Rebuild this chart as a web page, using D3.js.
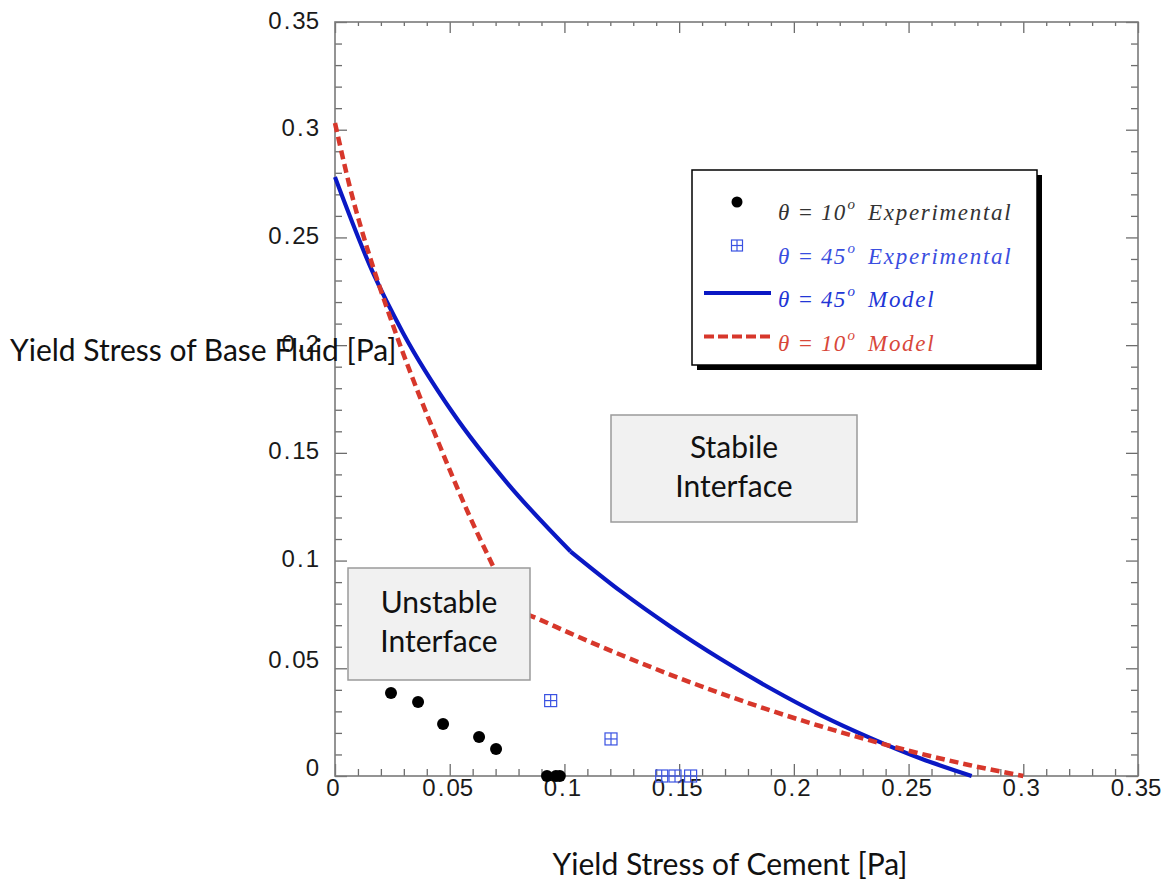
<!DOCTYPE html>
<html>
<head>
<meta charset="utf-8">
<script src="https://cdn.jsdelivr.net/npm/d3@7"></script>
<style>
  body { margin: 0; background: #ffffff; }
  svg { display: block; }
</style>
</head>
<body>
<svg id="chart" width="1163" height="881"></svg>
<script>
// ---- data ----
const xTickValues = [0, 0.05, 0.1, 0.15, 0.2, 0.25, 0.3, 0.35];
const xTickLabels = ["0", "0.05", "0.1", "0.15", "0.2", "0.25", "0.3", "0.35"];
const yTickValues = [0, 0.05, 0.1, 0.15, 0.2, 0.25, 0.3, 0.35];
const yTickLabels = ["0", "0.05", "0.1", "0.15", "0.2", "0.25", "0.3", "0.35"];

// experimental points [cement yield stress, base fluid yield stress]
const exp10 = [
  [0.0244, 0.0385], [0.0362, 0.0344], [0.0471, 0.0241], [0.0628, 0.0181],
  [0.0702, 0.0125], [0.0924, 0], [0.0963, 0], [0.0980, 0]
];
const exp45 = [
  [0.0940, 0.0350], [0.1203, 0.0172], [0.1424, 0], [0.1482, 0], [0.1550, 0]
];

// model curves, split where the slope changes abruptly
const model45Steep = [
  [0, 0.278], [0.0166, 0.2335], [0.0296, 0.2058], [0.0514, 0.1685],
  [0.075, 0.1361], [0.1027, 0.1042]
];
const model45Shallow = [
  [0.1027, 0.1042], [0.1245, 0.0858], [0.1463, 0.0693], [0.1681, 0.0543],
  [0.1899, 0.0406], [0.2117, 0.0283], [0.2335, 0.0176], [0.2553, 0.0081],
  [0.2775, 0]
];
const model10Steep = [
  [0, 0.3031], [0.0065, 0.2733], [0.0153, 0.2406], [0.0227, 0.2170],
  [0.0296, 0.1965], [0.0370, 0.1760], [0.0445, 0.1563], [0.0514, 0.1385],
  [0.0588, 0.1203], [0.0689, 0.0974], [0.0780, 0.0775]
];
const model10Shallow = [
  [0.0780, 0.0775], [0.0864, 0.0739], [0.1024, 0.0663], [0.1242, 0.0564],
  [0.1460, 0.0471], [0.1678, 0.0385], [0.1896, 0.0305], [0.2114, 0.0232],
  [0.2332, 0.0165], [0.2550, 0.0104], [0.2768, 0.0050], [0.3000, 0]
];

const legendItems = [
  { kind: "dot",    pre: "\u03B8 = 10", post: "Experimental", color: "#333333" },
  { kind: "square", pre: "\u03B8 = 45", post: "Experimental", color: "#3a4ee0" },
  { kind: "solid",  pre: "\u03B8 = 45", post: "Model",        color: "#2236d6" },
  { kind: "dashed", pre: "\u03B8 = 10", post: "Model",        color: "#d8473a" }
];

// ---- styling ----
const BLUE = "#0a18c4";
const RED = "#d7372b";
const SQ_BLUE = "#3a52e2";
const FRAME = "#7a7a7a";

const svg = d3.select("#chart");

const x = d3.scaleLinear().domain([0, 0.35]).range([335, 1138]);
const y = d3.scaleLinear().domain([0, 0.35]).range([776, 22]);

const minorX = d3.range(0, 36).map(i => i / 100).filter(v => Math.round(v * 100) % 5 !== 0);
const minorY = minorX.slice();

// ---- ticks on all four sides, pointing inward ----
function tickGroup(axis, tx, ty) {
  const g = svg.append("g").attr("transform", `translate(${tx},${ty})`).call(axis);
  g.select(".domain").remove();
  g.selectAll("line").attr("stroke", "#6d6d6d").attr("stroke-width", 1.3);
  g.selectAll("text").remove();
  return g;
}
tickGroup(d3.axisBottom(x).tickValues(minorX).tickSize(-7), 0, y(0));
tickGroup(d3.axisBottom(x).tickValues(xTickValues).tickSize(-12), 0, y(0));
tickGroup(d3.axisTop(x).tickValues(minorX).tickSize(-4), 0, y(0.35));
tickGroup(d3.axisTop(x).tickValues(xTickValues).tickSize(-11), 0, y(0.35));
tickGroup(d3.axisLeft(y).tickValues(minorY).tickSize(-7), x(0), 0);
tickGroup(d3.axisLeft(y).tickValues(yTickValues).tickSize(-12), x(0), 0);
tickGroup(d3.axisRight(y).tickValues(minorY).tickSize(-7), x(0.35), 0);
tickGroup(d3.axisRight(y).tickValues(yTickValues).tickSize(-12), x(0.35), 0);

// frame
svg.append("rect")
  .attr("x", x(0)).attr("y", y(0.35))
  .attr("width", x(0.35) - x(0)).attr("height", y(0) - y(0.35))
  .attr("fill", "none").attr("stroke", FRAME).attr("stroke-width", 1.6);

// ---- tick labels (wide decimal point) ----
function tickLabel(g, str, px, py, anchor) {
  const t = g.append("text")
    .attr("x", px).attr("y", py)
    .attr("text-anchor", anchor)
    .attr("font-family", "'Liberation Sans', Arial, sans-serif")
    .attr("font-size", 24)
    .attr("fill", "#1a1a1a");
  const parts = str.split(".");
  t.append("tspan").text(parts[0]);
  if (parts.length > 1) {
    t.append("tspan").attr("dx", 2).text(".");
    t.append("tspan").attr("dx", 2).text(parts[1]);
  }
}
const labelsG = svg.append("g");
xTickValues.forEach((v, i) => tickLabel(labelsG, xTickLabels[i], x(v) - 2, 796, "middle"));
// the two lowest labels sit a little higher, clear of the bottom axis labels
yTickValues.forEach((v, i) =>
  tickLabel(labelsG, yTickLabels[i], 319, y(v) + 8.5 - (v < 0.075 ? 9 : 2), "end"));

// ---- model curves ----
const line = d3.line().x(d => x(d[0])).y(d => y(d[1])).curve(d3.curveMonotoneX);
const curves = svg.append("g").attr("fill", "none");
[model45Steep, model45Shallow].forEach(seg =>
  curves.append("path").attr("d", line(seg))
    .attr("stroke", BLUE).attr("stroke-width", 4.2).attr("stroke-linejoin", "round"));
[model10Steep, model10Shallow].forEach(seg =>
  curves.append("path").attr("d", line(seg))
    .attr("stroke", RED).attr("stroke-width", 4.5).attr("stroke-dasharray", "9,5"));

// ---- experimental points ----
svg.append("g").selectAll("circle").data(exp10).join("circle")
  .attr("cx", d => x(d[0])).attr("cy", d => y(d[1])).attr("r", 6)
  .attr("fill", "#000");

function gridSquare(g, cx, cy, s, color) {
  const h = s / 2;
  g.append("rect").attr("x", cx - h).attr("y", cy - h).attr("width", s).attr("height", s)
    .attr("fill", "none").attr("stroke", color).attr("stroke-width", 1.2);
  g.append("line").attr("x1", cx).attr("x2", cx).attr("y1", cy - h).attr("y2", cy + h)
    .attr("stroke", color).attr("stroke-width", 1.2);
  g.append("line").attr("x1", cx - h).attr("x2", cx + h).attr("y1", cy).attr("y2", cy)
    .attr("stroke", color).attr("stroke-width", 1.2);
}
const sqG = svg.append("g");
exp45.forEach(d => gridSquare(sqG, x(d[0]), y(d[1]), 12, SQ_BLUE));

// ---- region annotations ----
function noteBox(bx, by, bw, bh, lines, baseline0) {
  const g = svg.append("g");
  g.append("rect").attr("x", bx).attr("y", by).attr("width", bw).attr("height", bh)
    .attr("fill", "#f1f1f1").attr("stroke", "#9a9a9a").attr("stroke-width", 1.5);
  lines.forEach((s, i) => g.append("text")
    .attr("x", bx + bw / 2).attr("y", baseline0 + i * 39)
    .attr("text-anchor", "middle")
    .attr("font-family", "Lato, 'Open Sans', sans-serif")
    .attr("font-size", 30).attr("fill", "#111")
    .text(s));
}
noteBox(611, 415, 246, 107, ["Stabile", "Interface"], 458);
noteBox(348, 568, 182, 112, ["Unstable", "Interface"], 613);

// ---- legend ----
const lg = svg.append("g");
lg.append("rect").attr("x", 697).attr("y", 175).attr("width", 345).attr("height", 195).attr("fill", "#000");
lg.append("rect").attr("x", 692).attr("y", 170).attr("width", 345).attr("height", 195)
  .attr("fill", "#fff").attr("stroke", "#000").attr("stroke-width", 1.5);

const rowBase = [220, 263.5, 307, 350.5];
legendItems.forEach((it, i) => {
  const my = rowBase[i] - 18;
  if (it.kind === "dot") {
    lg.append("circle").attr("cx", 737).attr("cy", my).attr("r", 5.5).attr("fill", "#000");
  } else if (it.kind === "square") {
    gridSquare(lg, 737, my, 11, SQ_BLUE);
  } else if (it.kind === "solid") {
    lg.append("line").attr("x1", 704).attr("x2", 771).attr("y1", my + 4).attr("y2", my + 4)
      .attr("stroke", BLUE).attr("stroke-width", 4);
  } else {
    lg.append("line").attr("x1", 704).attr("x2", 771).attr("y1", my + 4).attr("y2", my + 4)
      .attr("stroke", RED).attr("stroke-width", 4).attr("stroke-dasharray", "10,4");
  }
  const t = lg.append("text")
    .attr("x", 778).attr("y", rowBase[i])
    .attr("font-family", "'Liberation Serif', 'Times New Roman', serif")
    .attr("font-style", "italic").attr("font-size", 23)
    .attr("fill", it.color);
  t.append("tspan").attr("letter-spacing", 1.2).text(it.pre);
  t.append("tspan").attr("font-size", 15).attr("dy", -11).attr("dx", 1).text("o");
  t.append("tspan").attr("dy", 11).attr("dx", 13).attr("letter-spacing", 1.7).text(it.post);
});

// ---- axis titles ----
svg.append("text")
  .attr("x", 10).attr("y", 361)
  .attr("font-family", "Lato, 'Open Sans', sans-serif")
  .attr("font-size", 30).attr("fill", "#111")
  .text("Yield Stress of Base Fluid [Pa]");
svg.append("text")
  .attr("x", 730).attr("y", 875)
  .attr("text-anchor", "middle")
  .attr("font-family", "Lato, 'Open Sans', sans-serif")
  .attr("font-size", 30).attr("fill", "#111")
  .text("Yield Stress of Cement [Pa]");
</script>
</body>
</html>
